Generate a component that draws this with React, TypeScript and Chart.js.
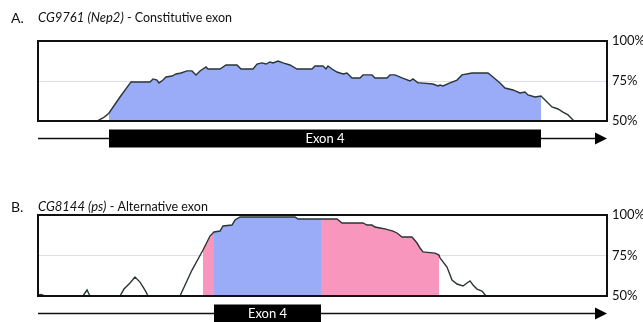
import React, { useEffect, useRef } from "react";
import { Chart, registerables } from "chart.js";

Chart.register(...registerables);

const FONT = "Lato, 'Open Sans', sans-serif";

// Shared axis settings: coverage is shown between 50% and 100%
const coverageTicks = [50, 75, 100];
const positionRange = [0, 569];

// Panel A: CG9761 (Nep2), constitutive exon 4
const nep2Positions = [
  0, 59, 65, 69, 71, 82, 93, 112, 115, 119, 121, 125, 128, 134, 138, 143, 149, 154, 158, 162,
  168, 170, 182, 188, 199, 203, 215, 219, 224, 228, 232, 235, 240, 245, 252, 259, 274, 277,
  285, 288, 290, 294, 299, 305, 309, 314, 322, 325, 334, 337, 349, 352, 357, 364, 372, 375,
  380, 382, 395, 400, 402, 405, 412, 419, 424, 434, 450, 455, 462, 467, 475, 482, 487, 490,
  497, 503, 505, 509, 514, 520, 525, 530, 535, 537, 569,
];
const nep2Coverage = [
  50, 50, 51.9, 53.8, 55, 65, 74.4, 74.4, 76.3, 75.6, 73.8, 75.6, 77.5, 78.1, 79.4, 80, 81.3,
  81.3, 78.8, 81.3, 83.8, 82.5, 82.5, 85, 85, 82.5, 82.5, 85.6, 86.3, 85.6, 86.9, 86.3, 87.5,
  86.3, 85, 82.5, 82.5, 84.4, 84.4, 82.5, 84.4, 82.5, 80.6, 79.4, 80, 76.9, 76.9, 78.8, 78.8,
  76.9, 76.9, 78.8, 78.8, 76.9, 75, 76.3, 73.8, 73.8, 73.1, 71.9, 72.5, 71.9, 73.8, 75.6, 78.8,
  80, 80, 77.5, 73.8, 70.6, 69.4, 67.5, 68.1, 66.3, 65, 65.6, 64.4, 61.9, 58.8, 57.5, 55.6,
  53.8, 50.6, 50, 50,
];
const nep2Exon = [71, 503];

// Panel B: CG8144 (ps), alternative exon 4
const psPositions = [
  0, 3, 7, 45, 49, 52, 82, 86, 92, 97, 102, 105, 108, 110, 142, 154, 165, 172, 176, 182, 185,
  194, 197, 202, 257, 260, 283, 299, 304, 325, 329, 334, 337, 342, 347, 355, 359, 364, 374,
  379, 382, 385, 397, 401, 402, 409, 414, 419, 425, 429, 432, 435, 439, 444, 448, 569,
];
const psCoverage = [
  50.6, 51, 50, 50, 53.7, 50, 50, 54.3, 58, 61.7, 58.6, 55.6, 52.5, 50, 50, 66, 78.4, 87,
  89.5, 90.1, 93.2, 93.8, 96.9, 98.8, 98.8, 97.5, 97.5, 97.5, 95.1, 95.1, 93.8, 93.8, 92.6,
  92, 91.4, 90.1, 88.9, 86.4, 86.4, 82.7, 79.6, 77.2, 76.5, 75.3, 73.5, 67.9, 59.9, 57.4,
  56.2, 58, 59.3, 56.8, 54.3, 53.1, 50, 50,
];
const psExon = [176, 283];
const psUpstreamReads = [165, 176];
const psExonReads = [176, 283];
const psDownstreamReads = [283, 401];

const BLUE = "#9aabf8";
const PINK = "#f896be";
const LINE = "#2a3535";

type Region = { range: number[]; color: string };

type PanelProps = {
  letter: string;
  gene: string;
  kind: string;
  positions: number[];
  coverage: number[];
  exon: number[];
  regions: Region[];
  padTop: number;
  padBottom: number;
  titleY: number;
};

function Panel(props: PanelProps) {
  const ref = useRef<HTMLCanvasElement | null>(null);

  useEffect(() => {
    const canvas = ref.current;
    if (!canvas) return;
    const { positions, coverage, exon, regions } = props;
    const points = positions.map((x, i) => ({ x, y: coverage[i] }));

    const fills = regions.map((r) => ({
      data: points.filter((p) => p.x >= r.range[0] && p.x <= r.range[1]),
      borderWidth: 0,
      backgroundColor: r.color,
      fill: "start" as const,
      pointRadius: 0,
    }));

    const decor = {
      id: "decor",
      beforeDraw(chart: any) {
        const c = chart.ctx;
        c.save();
        c.fillStyle = "#111";
        c.textBaseline = "middle";
        c.font = `14px ${FONT}`;
        c.fillText(props.letter, 11, props.titleY);
        c.font = `italic 13px ${FONT}`;
        c.fillText(props.gene, 38, props.titleY);
        const w = c.measureText(props.gene).width;
        c.font = `12.5px ${FONT}`;
        c.fillText(" - " + props.kind, 38 + w, props.titleY);
        c.restore();
      },
      afterDatasetsDraw(chart: any) {
        const c = chart.ctx;
        const a = chart.chartArea;
        const xs = chart.scales.x;
        c.save();
        // plot frame
        c.strokeStyle = "#111";
        c.lineWidth = 2;
        c.strokeRect(a.left, a.top, a.right - a.left, a.bottom - a.top);

        // gene model: arrow with exon block
        const barTop = a.bottom + 8.5;
        const barH = 18;
        const midY = barTop + barH / 2;
        c.lineWidth = 1.3;
        c.beginPath();
        c.moveTo(a.left, midY);
        c.lineTo(a.right - 10, midY);
        c.stroke();
        c.fillStyle = "#000";
        c.beginPath();
        c.moveTo(a.right - 12, midY - 6);
        c.lineTo(a.right, midY);
        c.lineTo(a.right - 12, midY + 6);
        c.closePath();
        c.fill();

        const x0 = xs.getPixelForValue(exon[0]);
        const x1 = xs.getPixelForValue(exon[1]);
        c.fillRect(x0, barTop, x1 - x0, barH);
        c.fillStyle = "#fff";
        c.font = `13px ${FONT}`;
        c.textAlign = "center";
        c.textBaseline = "middle";
        c.fillText("Exon 4", (x0 + x1) / 2, midY + 0.5);
        c.restore();
      },
    };

    const chart = new Chart(canvas, {
      type: "line",
      data: {
        datasets: [
          {
            data: points,
            borderColor: LINE,
            borderWidth: 1.4,
            pointRadius: 0,
            fill: false,
            tension: 0,
          },
          ...fills,
        ] as any,
      },
      options: {
        animation: false,
        responsive: false,
        events: [],
        layout: { padding: { left: 38, right: 0, top: props.padTop, bottom: props.padBottom } },
        plugins: { legend: { display: false }, tooltip: { enabled: false } },
        scales: {
          x: {
            type: "linear",
            min: positionRange[0],
            max: positionRange[1],
            display: false,
          },
          y: {
            position: "right",
            min: coverageTicks[0],
            max: coverageTicks[coverageTicks.length - 1],
            afterBuildTicks: (scale: any) => {
              scale.ticks = coverageTicks.map((v) => ({ value: v }));
            },
            afterFit: (scale: any) => {
              scale.width = 36;
            },
            border: { display: false },
            grid: {
              drawTicks: false,
              color: (ctx: any) => (ctx.tick && ctx.tick.value === 75 ? "#dcdcf8" : "rgba(0,0,0,0)"),
              lineWidth: 1,
            },
            ticks: {
              padding: 5,
              color: "#111",
              font: { family: FONT, size: 13 },
              callback: (v: any) => `${v}%`,
            },
          },
        },
      } as any,
      plugins: [decor],
    });
    return () => chart.destroy();
  }, []);

  return <canvas ref={ref} width={643} height={161} style={{ display: "block" }} />;
}

export default function App() {
  return (
    <div style={{ position: "absolute", left: 0, top: 0, width: 643, height: 322, background: "#fff" }}>
      <Panel
        letter="A."
        gene="CG9761 (Nep2)"
        kind="Constitutive exon"
        positions={nep2Positions}
        coverage={nep2Coverage}
        exon={nep2Exon}
        regions={[{ range: nep2Exon, color: BLUE }]}
        padTop={41}
        padBottom={40}
        titleY={18}
      />
      <Panel
        letter="B."
        gene="CG8144 (ps)"
        kind="Alternative exon"
        positions={psPositions}
        coverage={psCoverage}
        exon={psExon}
        regions={[
          { range: psUpstreamReads, color: PINK },
          { range: psExonReads, color: BLUE },
          { range: psDownstreamReads, color: PINK },
        ]}
        padTop={54}
        padBottom={26}
        titleY={46}
      />
    </div>
  );
}
